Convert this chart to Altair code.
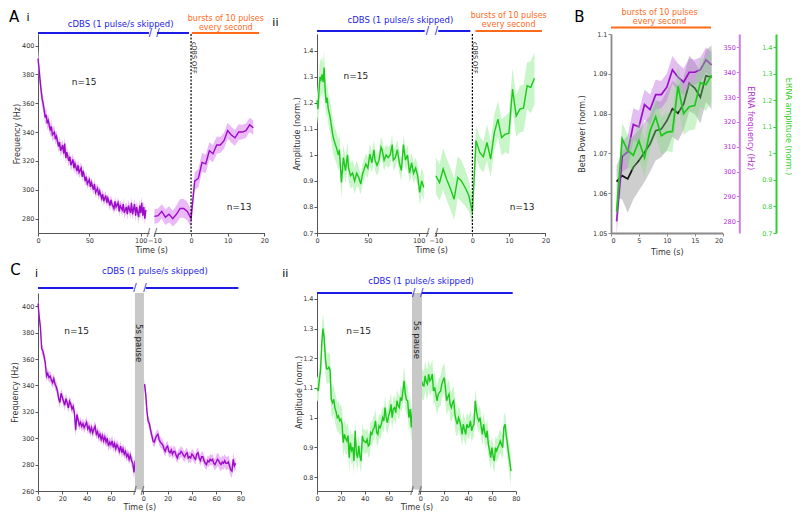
import altair as alt
import pandas as pd

FONT = "DejaVu Sans"
PURPLE = "#9a0cc8"
PURPLE_BAND = "#ebb9f7"
GREEN = "#1cc81c"
GREEN_BAND = "#c9f6c9"
BLUE = "#1c1ce6"
ORANGE = "#ff6a1a"
GRAY = "#c8c8c8"
AXIS = "#555555"
TXT = "#222222"

# ---------------- data: (time s, mean, sem) ----------------
AI_CDBS = [(0,391,6),(1,384,6),(2,376,6),(3,369,5.5),(4,363,5.5),(5,360,5),(6,355,5),(7,350,5),(8,352,5),
           (9,346,4.5),(10,348,4.5),(12,341,4.5),(13,344,4.5),(14,338,4.5),(16,340,4.5),(17,335,4),(18,337,4),
           (20,330,4),(21,333,4),(22,327,4),(24,331,4),(25,325,4),(26,332,4.5),(27,322,4),(28,326,4),(30,320,4),
           (31,323,4),(32,317,4),(34,321,4),(35,315,4),(36,318,4),(38,313,4),(39,317,4),(40,312,4),(42,315,4),
           (43,309,3.5),(44,313,3.5),(46,306,3.5),(47,309,3.5),(48,304,3.5),(50,307,3.5),(51,302,3.5),(52,305,3.5),
           (54,300,3.5),(55,304,3.5),(56,298,3.5),(58,301,3.5),(59,296,3.5),(60,299,3.5),(62,294,3.5),(63,297,3.5),
           (64,292,3.5),(66,296,3.5),(67,291,3.5),(68,294,3.5),(70,289,3.5),(71,293,3.5),(72,290,3.5),(74,287,3.5),
           (75,292,3.5),(76,288,3.5),(78,291,3.5),(79,285,3.5),(80,289,3.5),(82,286,4),(83,290,4),(84,284,4),
           (86,288,4),(87,283,4),(88,289,4),(90,284,4),(91,291,4),(92,283,4),(94,290,4),(95,282,4),(96,288,4),
           (98,281,4.5),(99,289,4.5),(100,284,4.5),(101,291,4.5),(102,282,4.5),(103,288,4.5),(104,280,4.5),(105,286,4.5)]
AI_END = [(-10,281.5,5),(-9,282,5),(-8,285,5),(-7,281,5.5),(-6,283,5.5),(-5,280,5.5),(-4,283,6),(-3,287,6.5),
          (-2,287,6.5),(-1,285,6.5)]
AI_BURST = [(0,280,6),(1,306,6),(2,308,6.5),(3,319,6.5),(4,318,6.5),(5,327,6),(6,325,6),(7,331,6),(8,331,5.5),
            (9,334,5.5),(10,341,5.5),(11,338,5.5),(12,336,5.5),(13,340,5.5),(14,340,5),(15,341,5),(16,345,5),(17,343,5)]

AII_CDBS = [(0,1.21,0.06),(1,1.176,0.06),(2,1.25,0.07),(3,1.30,0.07),(4,1.29,0.07),(5,1.31,0.07),(6,1.28,0.07),
            (7,1.336,0.07),(8,1.25,0.06),(9,1.20,0.06),(10,1.22,0.06),(11,1.18,0.06),(13,1.144,0.06),(15,1.09,0.06),
            (16,1.067,0.06),(18,1.04,0.06),(19,1.03,0.06),(21,1.00,0.06),(22,1.02,0.06),(24,0.894,0.06),(26,0.99,0.05),
            (28,0.94,0.05),(30,1.0,0.05),(31,0.95,0.05),(33,0.92,0.05),(35,0.93,0.05),(37,0.90,0.05),(39,0.93,0.05),
            (41,0.914,0.04),(43,0.888,0.04),(45,0.93,0.04),(46,0.94,0.04),(48,0.965,0.04),(50,0.95,0.04),
            (52,1.003,0.04),(54,0.97,0.04),(56,1.02,0.04),(57,0.98,0.04),(59,0.96,0.04),(61,0.98,0.04),
            (63,1.03,0.04),(64,1.02,0.04),(66,0.98,0.04),(68,1.0,0.04),(70,0.99,0.04),(72,1.0,0.04),(74,1.04,0.04),
            (75,0.98,0.04),(77,0.99,0.04),(79,1.02,0.04),(81,0.97,0.04),(83,0.94,0.04),(85,1.04,0.04),(87,0.98,0.04),
            (89,1.0,0.04),(91,0.93,0.04),(93,0.97,0.04),(95,0.93,0.04),(97,0.95,0.04),(99,0.92,0.04),
            (101,0.856,0.05),(103,0.90,0.05),(105,0.875,0.05)]
AII_END = [(-10,0.92,0.07),(-9,0.894,0.07),(-8,0.946,0.08),(-7,0.905,0.08),(-6,0.87,0.08),(-5,0.83,0.08),
           (-4,0.914,0.08),(-3,0.90,0.08),(-2,0.875,0.07),(-1,0.845,0.06)]
AII_BURST = [(0,0.78,0.05),(1,1.055,0.06),(2,1.01,0.06),(3,0.993,0.06),(4,1.048,0.07),(5,0.984,0.07),(6,1.086,0.07),
             (7,1.138,0.07),(8,1.067,0.07),(9,1.08,0.07),(10,1.083,0.08),(11,1.253,0.08),(12,1.15,0.08),
             (13,1.176,0.09),(14,1.18,0.09),(15,1.266,0.09),(16,1.26,0.1),(17,1.295,0.1)]

B_BETA = [(1,1.0629,0.004),(2,1.0644,0.006),(3,1.0636,0.0085),(4,1.0665,0.008),(5,1.0682,0.0075),(6,1.0703,0.0075),
          (7,1.0724,0.007),(8,1.0757,0.0075),(9,1.0761,0.007),(10,1.0782,0.0075),(11,1.0812,0.007),(12,1.0801,0.007),
          (13,1.0824,0.0065),(14,1.0876,0.007),(15,1.0864,0.0065),(16,1.0841,0.0065),(17,1.0895,0.0065),(18,1.0891,0.008)]

CI_FIRST = [(0,402,4),(1,392,4),(2,384,4),(3,368,4),(4,366,4),(5,362,4),(6,357,4),(7,347,4),(8,349,4),(9,346,4),
            (10,347,4),(11,344,4),(12,342,4),(13,345,4),(14,341,4),(15,339,4),(16,336,4),(17,330,4),(18,327,4),
            (19,334,4),(20,331,4),(21,328,4),(22,325,4),(23,330,4),(24,327,4),(25,323,4),(26,328,4),(27,326,4),
            (28,322,4),(29,324,4),(30,319,4),(31,306,5),(32,318,4),(33,314,4),(34,310,4),(35,312,4),(36,309,4),
            (37,311,4),(38,308,4),(39,310,4),(40,312,4),(41,307,4),(42,309,4),(43,305,4),(44,308,4),(45,304,4),
            (46,307,4),(47,309,4),(48,303,4),(49,305,4),(50,301,4),(51,303,4),(52,299,4),(53,302,4),(54,298,4),
            (55,301,4),(56,297,4),(57,300,4),(58,294,4),(59,297,4),(60,295,4),(61,298,4),(62,293,4),(63,296,4),
            (64,292,4),(65,295,4),(66,293,4),(67,290,4),(68,294,4),(69,289,4),(70,292,4),(71,288,4),(72,290,4),
            (73,286,4),(74,288,4),(75,284,4),(76,287,4),(77,283,4),(78,281,4.5),(79,274,5),(80,283,5)]
CI_SECOND = [(1,341,4),(2,333,4),(3,320,4),(4,313,4),(5,311,4),(6,306,4),(7,302,4),(8,298,4),(9,297,4),(10,300,4),
             (11,302,4),(12,303,4),(13,299,4),(14,297,4),(15,296,4),(16,295,4),(17,292,4),(18,290,4),(19,293,4),
             (20,294,4),(21,290,4),(22,289,4),(23,291,4),(24,288,4),(25,290,4),(26,290,4),(27,287,4),(28,285,4),
             (29,288,4),(30,288,4),(31,290,4),(32,289,4),(33,287,4),(34,286,4),(35,288,4),(36,289,4),(37,285,4),
             (38,286,4),(39,285,4),(40,288,4),(41,287,4),(42,285,4),(43,284,4),(44,288,4),(45,289,4),(46,285,4),
             (47,283,4),(48,286,4),(49,286,4),(50,283,4),(51,281,4),(52,280,4),(53,283,4),(54,282,4),(55,284,4),
             (56,283,4),(57,284,4),(58,281,4),(59,280,4),(60,282,5),(61,284,5),(62,283,5),(63,281,5),(64,280,5),
             (65,282,5),(66,281,5),(67,283,5),(68,281,5),(69,281,5),(70,282,5),(71,279,5),(72,276,5),(73,275,5),
             (74,284,5),(75,279,5),(76,281,5)]

CII_FIRST = [(0,1.10,0.04),(1,1.09,0.04),(2,1.13,0.04),(3,1.16,0.04),(4,1.25,0.05),(5,1.30,0.05),(6,1.27,0.05),
             (7,1.20,0.05),(8,1.165,0.05),(9,1.164,0.05),(10,1.17,0.05),(11,1.16,0.05),(12,1.06,0.05),(13,1.05,0.05),
             (14,1.062,0.05),(15,1.034,0.05),(16,1.02,0.05),(17,1.0,0.05),(18,1.006,0.05),(19,0.99,0.05),
             (20,0.995,0.05),(21,0.978,0.05),(22,0.916,0.05),(23,0.944,0.05),(24,0.93,0.05),(25,0.922,0.05),
             (26,0.94,0.05),(27,0.865,0.05),(28,0.916,0.05),(29,0.89,0.05),(30,0.90,0.05),(31,0.854,0.05),
             (32,0.956,0.04),(33,0.88,0.04),(34,0.865,0.04),(35,0.905,0.04),(36,0.87,0.04),(37,0.854,0.04),
             (38,0.939,0.04),(39,0.922,0.04),(40,0.92,0.04),(41,0.916,0.04),(42,0.927,0.04),(43,0.905,0.04),
             (44,0.91,0.04),(45,0.95,0.04),(46,0.944,0.04),(47,0.96,0.04),(48,0.967,0.04),(49,0.989,0.04),
             (50,0.95,0.04),(51,0.944,0.04),(52,0.972,0.04),(53,0.967,0.04),(54,0.98,0.04),(55,1.0,0.04),
             (56,0.989,0.04),(57,1.034,0.04),(58,1.0,0.04),(59,0.983,0.04),(60,1.006,0.04),(61,1.02,0.04),
             (62,1.045,0.04),(63,1.0,0.04),(64,1.03,0.04),(65,1.034,0.04),(66,1.017,0.04),(67,1.057,0.04),
             (68,1.04,0.04),(69,1.034,0.04),(70,1.068,0.04),(71,1.057,0.04),(72,1.09,0.04),(73,1.124,0.05),
             (74,1.079,0.05),(75,1.06,0.05),(76,1.057,0.05),(77,1.0,0.05),(78,1.029,0.05),(79,0.967,0.05),(80,1.029,0.05)]
CII_SECOND = [(1,1.124,0.05),(2,1.11,0.05),(3,1.107,0.05),(4,1.141,0.05),(5,1.12,0.05),(6,1.113,0.05),(7,1.147,0.05),
              (8,1.124,0.05),(9,1.13,0.05),(10,1.147,0.05),(11,1.09,0.05),(12,1.102,0.05),(13,1.08,0.05),
              (14,1.057,0.05),(15,1.079,0.05),(16,1.085,0.05),(17,1.09,0.05),(18,1.113,0.05),(19,1.125,0.05),
              (20,1.135,0.05),(21,1.102,0.05),(22,1.057,0.05),(23,1.07,0.05),(24,1.079,0.05),(25,1.045,0.05),
              (26,1.034,0.05),(27,1.05,0.05),(28,1.057,0.05),(29,1.012,0.05),(30,0.99,0.05),(31,0.978,0.04),
              (32,1.0,0.04),(33,0.989,0.04),(34,0.97,0.04),(35,0.944,0.04),(36,0.978,0.04),(37,0.96,0.04),
              (38,0.944,0.04),(39,0.978,0.04),(40,0.967,0.04),(41,0.97,0.04),(42,0.989,0.04),(43,0.956,0.04),
              (44,0.97,0.04),(45,0.978,0.04),(46,1.057,0.04),(47,1.023,0.04),(48,1.0,0.04),(49,0.989,0.04),
              (50,1.0,0.04),(51,0.97,0.04),(52,0.944,0.04),(53,0.978,0.04),(54,0.95,0.04),(55,0.933,0.04),
              (56,0.956,0.04),(57,0.91,0.04),(58,0.89,0.04),(59,0.865,0.04),(60,0.899,0.04),(61,0.87,0.04),
              (62,0.854,0.04),(63,0.899,0.04),(64,0.888,0.04),(65,0.9,0.04),(66,0.91,0.04),(67,0.922,0.04),
              (68,0.91,0.04),(69,0.899,0.04),(70,0.967,0.04),(71,0.978,0.04),(72,0.94,0.04),(73,0.91,0.05),
              (74,0.877,0.05),(75,0.85,0.05),(76,0.82,0.05)]

FREQ_TICKS_A = [280, 300, 320, 340, 360, 380, 400]
FREQ_TICKS_C = [260, 280, 300, 320, 340, 360, 380, 400]
AMP_TICKS_A = [0.7, 0.8, 0.9, 1.0, 1.1, 1.2, 1.3, 1.4]
AMP_TICKS_C = [0.8, 0.9, 1.0, 1.1, 1.2, 1.3, 1.4]
BETA_TICKS = [1.05, 1.06, 1.07, 1.08, 1.09, 1.1]
ERNA_F_TICKS = [280, 290, 300, 310, 320, 330, 340, 350]
TIME_A1, TIME_A2 = [0, 50, 100], [-10, 0, 10, 20]
TIME_C1, TIME_C2 = [0, 20, 40, 60], [0, 20, 40, 60, 80]
TIME_B = [0, 5, 10, 15, 20]

HDR_CDBS = "cDBS (1 pulse/s skipped)"
HDR_BURST = ["bursts of 10 pulses", "every second"]

H1, H2 = 199, 198


def table(rows, seg=1, xmap=None):
    df = pd.DataFrame(rows, columns=["t", "m", "s"])
    df["x"] = [xmap(t, seg) for t in df["t"]] if xmap else df["t"]
    df["lo"] = df["m"] - df["s"]
    df["hi"] = df["m"] + df["s"]
    df["seg"] = seg
    return df


def txt(text, x, y, size=8.5, color=TXT, angle=0, align="center", baseline="middle"):
    return alt.Chart(pd.DataFrame({"label": [text]})).mark_text(
        font=FONT, fontSize=size, color=color, angle=angle, align=align, baseline=baseline
    ).encode(text="label:N", x=x, y=y)


def series_panel(p):
    W, H = p["W"], p["H"]
    xs = alt.Scale(domain=[0, p["xmax"]], nice=False, zero=False)
    ys = alt.Scale(domain=p["ydom"], nice=False, zero=False)

    def xmap(t, seg):
        return t if seg == 1 else p["x0"] + p["k"] * t

    ticks = [xmap(t, 1) for t in p["ticks1"]] + [round(xmap(t, 2), 4) for t in p["ticks2"]]
    expr = (f"datum.value < {p['split']} ? format(datum.value, 'd') : "
            f"format(round((datum.value - {p['x0']}) / {p['k']}), 'd')")
    xaxis = alt.Axis(values=ticks, tickCount=len(ticks) + 2, labelExpr=expr, title="Time (s)",
                     titleY=p["xtitleY"], titleBaseline="middle", labelOverlap=False,
                     labelFlush=False, labelBound=False)
    yaxis = alt.Axis(values=p["yticks"], tickCount=len(p["yticks"]) + 2, format=p["yfmt"],
                     title=p["ytitle"], titleX=p["ytitleX"], titleBaseline="middle", labelOverlap=False)

    def X(f="x"):
        return alt.X(f"{f}:Q", scale=xs, axis=xaxis)

    data = pd.concat([table(p["seg1"], 1, xmap), table(p["seg2"], 2, xmap)], ignore_index=True)
    layers = [
        alt.Chart(data).mark_area(color=p["band"]).encode(
            x=X(), y=alt.Y("lo:Q", scale=ys, axis=yaxis), y2="hi:Q", detail="seg:N"),
        alt.Chart(data).mark_line(color=p["color"], strokeWidth=1.4).encode(
            x=X(), y=alt.Y("m:Q", scale=ys, axis=yaxis), detail="seg:N"),
    ]
    if "pause" in p:
        a, b = p["pause"]
        layers.append(alt.Chart(pd.DataFrame({"x1": [a], "x2": [b]})).mark_rect(color=GRAY).encode(
            x=X("x1"), x2="x2:Q", y=alt.value(0), y2=alt.value(H)))
        layers.append(txt("5s pause", alt.datum((a + b) / 2), alt.value(p["pause_y"]), size=8.5,
                          angle=90, align="left", baseline="middle"))
    if "vline" in p:
        layers.append(alt.Chart(pd.DataFrame({"x": [p["x0"]]})).mark_rule(
            color="black", strokeDash=[2, 1.5], strokeWidth=1.2).encode(x=X()))
        layers.append(txt("cDBS OFF", alt.datum(p["x0"] + 2.5), alt.value(8), size=6.5, angle=90,
                          align="left", baseline="middle"))
    # axis break: hide the axis line between the two slashes
    m1, m2 = p["mask"]
    layers.append(alt.Chart(pd.DataFrame({"x1": [m1], "x2": [m2]})).mark_rule(
        color="white", strokeWidth=3).encode(x=X("x1"), x2="x2:Q", y=alt.value(H)))
    for sx in p["axis_slash"]:
        layers.append(txt("/", alt.datum(sx), alt.value(H), size=10, color=AXIS))
    # header bars
    for (a, b, color) in p["headers"]:
        layers.append(alt.Chart(pd.DataFrame({"x1": [a], "x2": [b]})).mark_rule(
            color=color, strokeWidth=2).encode(x=X("x1"), x2="x2:Q", y=alt.value(p["hdr_y"])))
    for sx in p["hdr_slash"]:
        layers.append(txt("/", alt.datum(sx), alt.value(p["hdr_y"]), size=10, color=BLUE))
    layers.append(txt(HDR_CDBS, alt.datum(p["cdbs_x"]), alt.value(p["cdbs_y"]), color=BLUE))
    if "burst_x" in p:
        for line, yy in zip(HDR_BURST, p["burst_y"]):
            layers.append(txt(line, alt.datum(p["burst_x"]), alt.value(yy), size=8, color=ORANGE))
    for (label, nx, ny) in p["n_labels"]:
        layers.append(txt(label, alt.datum(nx), alt.datum(ny), size=9))
    for (label, px, py, size) in p["letters"]:
        layers.append(txt(label, alt.value(px), alt.value(py), size=size, color="black"))
    return alt.layer(*layers).properties(width=W, height=H)


panel_ai = series_panel(dict(
    W=226.3, H=H1, xmax=220.3, x0=149.0, k=3.564, split=106, ticks1=TIME_A1, ticks2=TIME_A2,
    ydom=[270, 408], yticks=FREQ_TICKS_A, yfmt="d", ytitle="Frequency (Hz)", ytitleX=-21, xtitleY=17,
    seg1=AI_CDBS, seg2=AI_END + AI_BURST, color=PURPLE, band=PURPLE_BAND, vline=True,
    mask=(108.6, 113.4), axis_slash=[107.6, 114.4],
    headers=[(0, 108, BLUE), (115.9, 147, BLUE), (149.7, 215.2, ORANGE)], hdr_y=-1, hdr_slash=[109.5, 116.8],
    cdbs_x=80.5, cdbs_y=-10.5, burst_x=182.8, burst_y=[-15.5, -6.5],
    n_labels=[("n=15", 44.8, 374.9), ("n=13", 195.7, 288.2)],
    letters=[("A", -24, -17, 15), ("i", -10, -16, 11)],
))

panel_aii = series_panel(dict(
    W=228.4, H=H1, xmax=224.6, x0=152.8, k=3.59, split=108, ticks1=TIME_A1, ticks2=TIME_A2,
    ydom=[0.7, 1.465], yticks=AMP_TICKS_A, yfmt=".1~f", ytitle="Amplitude (norm.)", ytitleX=-19.5, xtitleY=17,
    seg1=AII_CDBS, seg2=AII_END + AII_BURST, color=GREEN, band=GREEN_BAND, vline=True,
    mask=(110, 116), axis_slash=[108.8, 117.4],
    headers=[(0, 105.9, BLUE), (119.2, 150.8, BLUE), (155.8, 221.2, ORANGE)], hdr_y=-3, hdr_slash=[108.6, 117.5],
    cdbs_x=82, cdbs_y=-14, burst_x=188.5, burst_y=[-18.5, -9.5],
    n_labels=[("n=15", 38.3, 1.3035), ("n=13", 201.6, 0.801)],
    letters=[("ii", -41.6, -11.3, 11)],
))

panel_ci = series_panel(dict(
    W=202.5, H=H2, xmax=166.7, x0=86.7, k=1, split=83, ticks1=TIME_C1, ticks2=TIME_C2,
    ydom=[260, 410], yticks=FREQ_TICKS_C, yfmt="d", ytitle="Frequency (Hz)", ytitleX=-23, xtitleY=16,
    seg1=CI_FIRST, seg2=CI_SECOND, color=PURPLE, band=PURPLE_BAND, pause=(79.8, 87.2), pause_y=31,
    mask=(80.5, 85.0), axis_slash=[79.7, 85.9],
    headers=[(0, 78.4, BLUE), (88.7, 164.9, BLUE)], hdr_y=-5, hdr_slash=[79.8, 88],
    cdbs_x=96.2, cdbs_y=-21.6,
    n_labels=[("n=15", 31.8, 381.5)],
    letters=[("C", -22.5, -23, 15), ("i", -1.4, -19, 11)],
))

panel_cii = series_panel(dict(
    W=198.8, H=H2, xmax=166.6, x0=86.6, k=1, split=83, ticks1=TIME_C1, ticks2=TIME_C2,
    ydom=[0.753, 1.42], yticks=AMP_TICKS_C, yfmt=".1~f", ytitle="Amplitude (norm.)", ytitleX=-18, xtitleY=16,
    seg1=CII_FIRST, seg2=CII_SECOND, color=GREEN, band=GREEN_BAND, pause=(79.6, 88.0), pause_y=27.7,
    mask=(80.5, 85.3), axis_slash=[79.6, 86.2],
    headers=[(0, 79.6, BLUE), (88, 164, BLUE)], hdr_y=0, hdr_slash=[81, 87.7],
    cdbs_x=87.2, cdbs_y=-11.6,
    n_labels=[("n=15", 34.9, 1.293)],
    letters=[("ii", -31.7, -19, 11)],
))


def b_panel():
    W, H = 111.7, H1
    xs = alt.Scale(domain=[0, 20], nice=False, zero=False)
    xaxis = alt.Axis(values=TIME_B, tickCount=len(TIME_B) + 2, title="Time (s)", titleY=19.7,
                     titleBaseline="middle", labelOverlap=False,
                     domainColor="#8a8a8a", domainWidth=1.8, tickColor="#8a8a8a")

    def X(f="x"):
        return alt.X(f"{f}:Q", scale=xs, axis=xaxis)

    beta = table(B_BETA)
    freq = table([(t + 1, m, s) for t, m, s in AI_BURST])
    amp = table([(t + 1, m, s) for t, m, s in AII_BURST])

    yb = alt.Scale(domain=[1.05, 1.1], nice=False, zero=False)
    ab = alt.Axis(values=BETA_TICKS, tickCount=len(BETA_TICKS) + 2, format=".2~f", title="Beta Power (norm.)",
                  titleX=-28.4, titleBaseline="middle", labelOverlap=False,
                  domainColor="#8a8a8a", domainWidth=1.8, tickColor="#8a8a8a")
    yf = alt.Scale(domain=[275.3, 355.4], nice=False, zero=False)
    af = alt.Axis(values=ERNA_F_TICKS, tickCount=len(ERNA_F_TICKS) + 2, format="d", orient="left", offset=-128.3,
                  title="ERNA frequency (Hz)", labelOverlap=False,
                  titleAngle=90, titleX=10, titleY=93.7, titleBaseline="middle", titleAlign="center",
                  domainColor="#c77fe0", domainWidth=2, tickColor="#c77fe0", labelColor="#b02fd0",
                  titleColor="#b02fd0")
    ya = alt.Scale(domain=[0.7, 1.45], nice=False, zero=False)
    aa = alt.Axis(values=AMP_TICKS_A, tickCount=len(AMP_TICKS_A) + 2, format=".1~f", orient="left", offset=-165,
                  title="ERNA amplitude (norm.)", labelOverlap=False,
                  titleAngle=90, titleX=11.6, titleY=92, titleBaseline="middle", titleAlign="center",
                  domainColor="#2fd02f", domainWidth=2, tickColor="#2fd02f", labelColor="#2fcf2f",
                  titleColor="#2fcf2f")

    black = alt.layer(
        alt.Chart(beta).mark_area(color="#a6a6a6", opacity=0.55).encode(
            x=X(), y=alt.Y("lo:Q", scale=yb, axis=ab), y2="hi:Q"),
        alt.Chart(beta).mark_line(color="#111111", strokeWidth=1.7).encode(
            x=X(), y=alt.Y("m:Q", scale=yb, axis=ab)),
        alt.Chart(pd.DataFrame({"x1": [0], "x2": [17.9]})).mark_rule(color=ORANGE, strokeWidth=2).encode(
            x=X("x1"), x2="x2:Q", y=alt.value(-6.6)),
        txt(HDR_BURST[0], alt.datum(8.7), alt.value(-21), size=8, color=ORANGE),
        txt(HDR_BURST[1], alt.datum(8.7), alt.value(-12.3), size=8, color=ORANGE),
        txt("B", alt.value(-31.7), alt.value(-17), size=15, color="black"),
    )
    purple = alt.layer(
        alt.Chart(freq).mark_area(color="#c070e0", opacity=0.45).encode(
            x=X(), y=alt.Y("lo:Q", scale=yf, axis=af), y2="hi:Q"),
        alt.Chart(freq).mark_line(color=PURPLE, strokeWidth=1.7).encode(
            x=X(), y=alt.Y("m:Q", scale=yf, axis=af)),
    )
    green = alt.layer(
        alt.Chart(amp).mark_area(color="#7fe07f", opacity=0.4).encode(
            x=X(), y=alt.Y("lo:Q", scale=ya, axis=aa), y2="hi:Q"),
        alt.Chart(amp).mark_line(color=GREEN, strokeWidth=1.7).encode(
            x=X(), y=alt.Y("m:Q", scale=ya, axis=aa)),
    )
    return alt.layer(black, purple, green).resolve_scale(y="independent").properties(width=W, height=H)


def spacer(w):
    return alt.Chart(pd.DataFrame({"a": [0]})).mark_point(opacity=0).properties(width=w, height=1)


chart = alt.concat(
    panel_ai, spacer(52), panel_aii, spacer(65), b_panel(),
    panel_ci, spacer(1), panel_cii,
    columns=5, spacing={"row": 60, "column": 0}, bounds="flush", align="each",
).properties(padding={"left": 0, "right": 0, "top": 1, "bottom": 0}, background="white").configure_view(
    stroke=None
).configure_axis(
    labelFont=FONT, titleFont=FONT, labelFontSize=6.5, titleFontSize=8, titleFontWeight="normal",
    labelColor="#333333", titleColor="#333333", domainColor=AXIS, tickColor=AXIS, tickSize=3,
    labelPadding=1, grid=False,
)

chart.save("out.html", embed_options={"renderer": "svg", "actions": False})
